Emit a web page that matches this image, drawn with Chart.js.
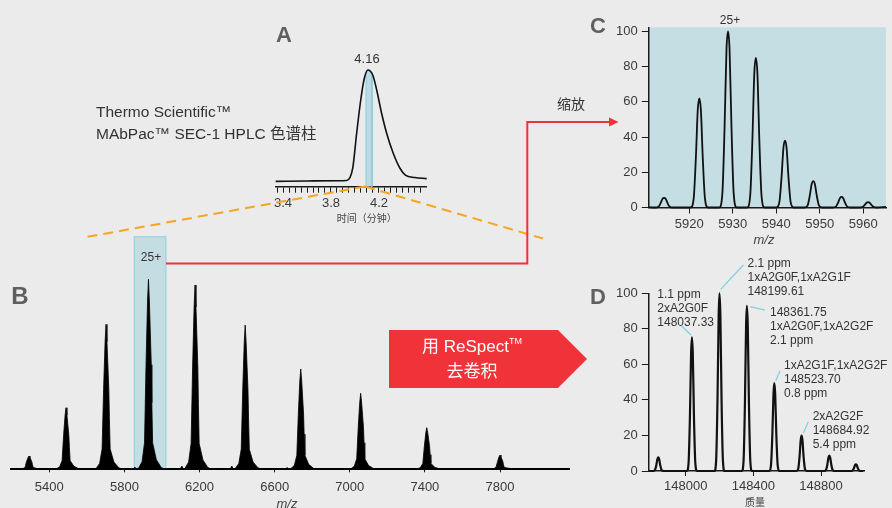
<!DOCTYPE html>
<html><head><meta charset="utf-8">
<script src="https://cdn.jsdelivr.net/npm/chart.js@4.4.1/dist/chart.umd.min.js"></script>
<style>
html,body{margin:0;padding:0;background:#ebebeb;}
#root{position:relative;width:892px;height:508px;overflow:hidden;background:#ebebeb;font-family:"Liberation Sans","Noto Sans CJK SC",sans-serif;color:#333;}
.cv{position:absolute;}
.t{position:absolute;white-space:nowrap;line-height:1;}
.c{transform:translate(-50%,-50%);}
.l{transform:translate(0,-50%);}
.big{font-size:22px;font-weight:bold;color:#5f5f5f;}
.ann{position:absolute;font-size:12px;line-height:14px;color:#333;white-space:nowrap;}
sup{font-size:9px;vertical-align:8px;}
</style></head><body><div id="root">
<canvas id="ca" class="cv" width="180" height="180" style="left:260px;top:50px"></canvas>
<canvas id="cb" class="cv" width="590" height="283" style="left:0px;top:225px"></canvas>
<canvas id="cc" class="cv" width="292" height="240" style="left:600px;top:10px"></canvas>
<canvas id="cd" class="cv" width="292" height="258" style="left:600px;top:250px"></canvas>

<svg width="892" height="508" style="position:absolute;left:0;top:0;pointer-events:none">
  <line x1="365" y1="186.5" x2="84" y2="237.5" stroke="#f5a623" stroke-width="2" stroke-dasharray="10 6"/>
  <line x1="365" y1="186.5" x2="543" y2="238.5" stroke="#f5a623" stroke-width="2" stroke-dasharray="10 6"/>
  <polyline points="166,263.5 527.3,263.5 527.3,122 611,122" fill="none" stroke="#ee3338" stroke-width="2"/>
  <polygon points="609,117.5 618.5,122 609,126.5" fill="#ee3338"/>
  <polygon points="389,330 558,330 587,359 558,388 389,388" fill="#ef3338"/>
  <g stroke="#7fcfe0" stroke-width="1.2">
    <line x1="681.7" y1="326" x2="691" y2="335"/>
    <line x1="743.3" y1="265" x2="720.7" y2="289.3"/>
    <line x1="750" y1="306.7" x2="765" y2="310"/>
    <line x1="780" y1="370.7" x2="775.7" y2="380.7"/>
    <line x1="808.3" y1="421.7" x2="803.3" y2="433.3"/>
  </g>
</svg>

<div class="t c big" style="left:284px;top:35px">A</div>
<div class="t c" style="left:367px;top:57.5px;font-size:13px">4.16</div>
<div class="t l" style="left:96px;top:112px;font-size:15.5px">Thermo Scientific™</div>
<div class="t l" style="left:96px;top:134px;font-size:15.5px">MAbPac™ SEC-1 HPLC 色谱柱</div>
<div class="t c" style="left:366.7px;top:219px;font-size:10px;color:#444">时间（分钟）</div>
<div class="t c big" style="left:598px;top:26px">C</div>
<div class="t c" style="left:730px;top:20px;font-size:12px">25+</div>
<div class="t c" style="left:571px;top:104px;font-size:14px">缩放</div>
<div class="t c" style="left:764px;top:238.5px;font-size:13px;font-style:italic;color:#444">m/z</div>
<div class="t c big" style="left:20px;top:296px;font-size:24px">B</div>
<div class="t c" style="left:151px;top:257px;font-size:12px">25+</div>
<div class="t c" style="left:287px;top:503px;font-size:13px;font-style:italic;color:#444">m/z</div>
<div class="t c" style="left:472px;top:346px;font-size:17px;color:#fff">用 ReSpect<sup>TM</sup></div>
<div class="t c" style="left:472px;top:371px;font-size:17px;color:#fff">去卷积</div>
<div class="t c big" style="left:598px;top:297px">D</div>
<div class="t c" style="left:755px;top:503px;font-size:10px;color:#444">质量</div>
<div class="ann" style="left:657.3px;top:287px">1.1 ppm<br>2xA2G0F<br>148037.33</div>
<div class="ann" style="left:747.5px;top:256px">2.1 ppm<br>1xA2G0F,1xA2G1F<br>148199.61</div>
<div class="ann" style="left:770px;top:305px">148361.75<br>1xA2G0F,1xA2G2F<br>2.1 ppm</div>
<div class="ann" style="left:784px;top:358px">1xA2G1F,1xA2G2F<br>148523.70<br>0.8 ppm</div>
<div class="ann" style="left:812.7px;top:409px">2xA2G2F<br>148684.92<br>5.4 ppm</div>
</div>
<script>
// ---------- Panel A: SEC chromatogram ----------
const chromTime   = [3.339, 3.6, 3.85, 3.931, 3.981, 4.014, 4.048, 4.078, 4.108, 4.148, 4.181, 4.222, 4.264, 4.319, 4.375, 4.42, 4.5, 4.598];
const chromSignal = [4.6,   4.9, 5.1,  5.3,   15.8,  45.8,  74.3,  92.9,  100,   95.7,  82.9,  62.9,  45.8,  28.6,  15.8,  10.0, 7.9, 6.9];
const fractionTime   = [4.092, 4.092, 4.108, 4.142, 4.142];
const fractionSignal = [0,     98.5,  100,   96.3,  0];
const aTickValues = [3.35,3.4,3.45,3.5,3.55,3.6,3.65,3.7,3.75,3.8,3.85,3.9,3.95,4.0,4.05,4.1,4.15,4.2,4.25,4.3,4.35,4.4,4.45,4.5,4.55];
const aLabeledTicks = [3.4, 3.8, 4.2];
const aTickLabels = ['3.4', '3.8', '4.2'];

// ---------- Panel B: native MS spectrum ----------
const bMz = [5200,
 5236,5258,5271,5278,5287,5292,5297,5307,5310,5314,5334,5360,5380,
 5433,5455,5468,5476,5484,5489,5494,5504,5507,5511,5531,5557,5577,
 5646,5668,5681,5689,5697,5702,5707,5717,5720,5724,5744,5770,5790,
 5846,5856,5862,
 5872,5894,5907,5915,5923,5928,5933,5943,5946,5950,5970,5996,6016,
 6096,6106,6113,
 6120,6142,6155,6163,6171,6176,6181,6191,6194,6198,6218,6244,6264,
 6362,6372,6379,
 6387,6409,6422,6430,6438,6443,6448,6458,6461,6465,6485,6511,6531,
 6656,6666,6674,
 6683,6705,6718,6726,6734,6739,6744,6754,6757,6761,6781,6807,6827,
 7002,7024,7037,7045,7053,7058,7063,7073,7076,7080,7100,7126,7146,
 7354,7376,7389,7397,7405,7410,7415,7425,7428,7432,7452,7478,7498,
 7744,7766,7779,7787,7795,7800,7805,7815,7818,7822,7842,7868,7888,
 8080];
const bIntensity = [0.3,
 0,0.3,1.0,3.9,6.2,7.0,6.2,3.9,2.5,1.0,0.4,0.1,0,
 0,1.3,4.5,17.8,28.5,32.4,28.5,17.8,11.3,4.5,1.6,0.3,0,
 0,3.1,10.7,42.0,67.1,76.3,67.1,42.0,26.7,10.7,3.8,0.8,0,
 0,1.2,0.1,
 0,4,14,55,88,100,88,55,35,14,5,1,0,
 0,1.7,0.2,
 0,3.9,13.6,53.4,85.4,97,85.4,53.4,34.0,13.6,4.9,1.0,0,
 0,1.7,0.2,
 0,3.0,10.6,41.7,66.8,75.9,66.8,41.7,26.6,10.6,3.8,0.8,0,
 0,1.0,0.1,
 0,2.1,7.4,29.0,46.5,52.8,46.5,29.0,18.5,7.4,2.6,0.5,0,
 0,1.6,5.6,22.0,35.2,40,35.2,22,14,5.6,2.0,0.4,0,
 0,0.9,3.1,12.0,19.3,21.9,19.3,12.0,7.7,3.1,1.1,0.2,0,
 0,0.3,1.1,4.1,6.6,7.5,6.6,4.1,2.6,1.1,0.6,0.3,0,
 0];
const bTickValues = [5400, 5800, 6200, 6600, 7000, 7400, 7800];
const bHighlightMz = [5853, 6020];
const bHighlightTop = 122.4;

// ---------- Panel C: zoom of the 25+ charge state ----------
const cMz = [5910.7,
 5912.2,5912.9,5913.4,5913.85,5914.2,5914.55,5915.0,5915.5,5916.2,
 5920.3,5921.0,5921.5,5921.95,5922.3,5922.65,5923.1,5923.6,5924.3,
 5926.9,5927.6,5928.1,5928.55,5928.9,5929.25,5929.7,5930.2,5930.9,
 5933.3,5934.0,5934.5,5934.95,5935.3,5935.65,5936.1,5936.6,5937.3,
 5940.0,5940.7,5941.2,5941.65,5942.0,5942.35,5942.8,5943.3,5944.0,
 5946.5,5947.2,5947.7,5948.15,5948.5,5948.85,5949.3,5949.8,5950.5,
 5953.0,5953.7,5954.2,5954.65,5955.0,5955.35,5955.8,5956.3,5957.0,
 5959.1,5959.8,5960.3,5960.75,5961.1,5961.45,5961.9,5962.4,5963.1,
 5965.2];
const cIntensity = [0.2,
 0,0.4,2.5,5.0,5.5,5.0,2.5,0.4,0,
 0,5.0,27.9,55.8,62,55.8,27.9,5.0,0,
 0,8,45,90,100,90,45,8,0,
 0,6.8,38.3,76.5,85,76.5,38.3,6.8,0,
 0,3.0,17.1,34.2,38,34.2,17.1,3.0,0,
 0,1.2,6.8,13.5,15,13.5,6.8,1.2,0,
 0,0.5,2.7,5.4,6,5.4,2.7,0.5,0,
 0,0.3,1.4,2.7,3,2.7,1.4,0.3,0,
 0.3];
const cXTicks = [5920, 5930, 5940, 5950, 5960];
const cYTicks = [0, 20, 40, 60, 80, 100];

// ---------- Panel D: deconvoluted mass spectrum ----------
const dMass = [147785,
 147808,147818,147826,147833,147838,147843,147850,147858,147868,
 148007,148017,148025,148032,148037,148042,148049,148057,148067,
 148170,148180,148188,148195,148199.6,148205,148212,148220,148230,
 148332,148342,148350,148357,148361.75,148367,148374,148382,148392,
 148494,148504,148512,148519,148523.7,148529,148536,148544,148554,
 148655,148665,148673,148680,148684.9,148690,148697,148705,148715,
 148819,148829,148837,148844,148849,148854,148861,148869,148879,
 148976,148986,148994,149001,149006,149011,149018,149026,149036,
 149050];
const dIntensity = [0,
 0,0.5,3.1,6.8,7.7,6.8,3.1,0.5,0,
 0,4.5,30.1,66.2,75.2,66.2,30.1,4.5,0,
 0,6,40,88,100,88,40,6,0,
 0,5.6,37.2,81.8,92.9,81.8,37.2,5.6,0,
 0,3.0,19.8,43.5,49.4,43.5,19.8,3.0,0,
 0,1.2,8.0,17.5,19.9,17.5,8.0,1.2,0,
 0,0.5,3.4,7.6,8.6,7.6,3.4,0.5,0,
 0,0.2,1.5,3.3,3.8,3.3,1.5,0.2,0,
 0];
const dXTicks = [148000, 148400, 148800];
const dYTicks = [0, 20, 40, 60, 80, 100];

// ---------- helpers ----------
const FAM = '"Liberation Sans","Noto Sans CJK SC",sans-serif';
const TXT = '#3a3a3a';
const AX = '#1a1a1a';
function pts(xs, ys){ return xs.map((x,i)=>({x:x, y:ys[i]})); }
function fixBox(w,h){ return function(s){ if(w!=null) s.width=w; if(h!=null) s.height=h; s.paddingLeft=0; s.paddingRight=0; s.paddingTop=0; s.paddingBottom=0; }; }
function setTicks(vals){ return function(s){ s.ticks = vals.map(v=>({value:v})); }; }

const areaFill = {id:'areaFill', beforeDraw(chart, args, o){
  if(!o || !o.color) return;
  const a = chart.chartArea, ctx = chart.ctx;
  ctx.save(); ctx.fillStyle = o.color; ctx.fillRect(a.left, a.top, a.right-a.left, a.bottom-a.top); ctx.restore();
}};
const bandBox = {id:'bandBox', beforeDraw(chart, args, o){
  if(!o || !o.range) return;
  const x = chart.scales.x, y = chart.scales.y, ctx = chart.ctx;
  const x0 = x.getPixelForValue(o.range[0]), x1 = x.getPixelForValue(o.range[1]);
  const y0 = y.getPixelForValue(0), y1 = y.getPixelForValue(o.top);
  ctx.save();
  ctx.fillStyle = o.fill; ctx.fillRect(x0, y1, x1-x0, y0-y1);
  ctx.strokeStyle = o.stroke; ctx.lineWidth = 1.5; ctx.strokeRect(x0, y1, x1-x0, y0-y1);
  ctx.restore();
}};

function base(padding){
  return {responsive:false, animation:false, devicePixelRatio:1,
    layout:{padding:padding, autoPadding:false},
    plugins:{legend:{display:false}, tooltip:{enabled:false}}};
}

// ---------- Chart A ----------
(function(){
  const o = base({left:15.7, right:13.3, top:20, bottom:0});
  o.scales = {
    x:{type:'linear', min:3.339, max:4.598, afterBuildTicks:setTicks(aTickValues), afterFit:fixBox(null,43.3),
       ticks:{autoSkip:false, maxRotation:0, padding:3, color:TXT, font:{size:13, family:FAM},
         callback:(v)=>{ const i = aLabeledTicks.findIndex(t=>Math.abs(t-v)<1e-6); return i>=0 ? aTickLabels[i] : ''; }},
       grid:{display:true, drawOnChartArea:false, drawTicks:true, tickLength:6, color:AX, lineWidth:1},
       border:{display:true, color:AX, width:1.5}},
    y:{display:false, min:0, max:100}
  };
  new Chart(document.getElementById('ca'), {type:'line', data:{datasets:[
    {data:pts(chromTime, chromSignal), borderColor:'#111', borderWidth:1.6, pointRadius:0, cubicInterpolationMode:'monotone', fill:false, clip:false, order:1},
    {data:pts(fractionTime, fractionSignal), borderColor:'#8ccbd8', backgroundColor:'#b6dce5', borderWidth:1, pointRadius:0, tension:0, fill:'origin', clip:false, order:2}
  ]}, options:o});
})();

// ---------- Chart B ----------
(function(){
  const o = base({left:11, right:20.7, top:54.3, bottom:0});
  o.plugins.bandBox = {range:bHighlightMz, top:bHighlightTop, fill:'#c4dde3', stroke:'#a3d4df'};
  o.scales = {
    x:{type:'linear', min:5196, max:8169, afterBuildTicks:setTicks(bTickValues), afterFit:fixBox(null,38.7),
       ticks:{autoSkip:false, maxRotation:0, padding:7, color:TXT, font:{size:13, family:FAM}, callback:(v)=>String(v)},
       grid:{display:true, drawOnChartArea:false, drawTicks:true, tickLength:3, color:AX, lineWidth:1},
       border:{display:true, color:'#000', width:2}},
    y:{display:false, min:0, max:100}
  };
  new Chart(document.getElementById('cb'), {type:'line', data:{datasets:[
    {data:pts(bMz, bIntensity), borderColor:'#000', backgroundColor:'#000', borderWidth:0.8, pointRadius:0, tension:0, fill:'origin', clip:false}
  ]}, options:o, plugins:[bandBox]});
})();

// ---------- Chart C ----------
(function(){
  const o = base({left:0, right:6, top:17.3, bottom:0});
  o.plugins.areaFill = {color:'#c4dee4'};
  o.scales = {
    x:{type:'linear', min:5910.57, max:5965.22, afterBuildTicks:setTicks(cXTicks), afterFit:fixBox(null,42.5),
       ticks:{autoSkip:false, maxRotation:0, padding:3, color:TXT, font:{size:13, family:FAM}, callback:(v)=>String(v)},
       grid:{display:true, drawOnChartArea:false, drawTicks:true, tickLength:6, color:AX, lineWidth:1},
       border:{display:true, color:AX, width:1.5}},
    y:{type:'linear', min:0, max:102.4, afterBuildTicks:setTicks(cYTicks), afterFit:fixBox(48.3,null),
       ticks:{autoSkip:false, padding:4, color:TXT, font:{size:13, family:FAM}, callback:(v)=>String(v)},
       grid:{display:true, drawOnChartArea:false, drawTicks:true, tickLength:6.5, color:AX, lineWidth:1},
       border:{display:true, color:AX, width:1.5}}
  };
  new Chart(document.getElementById('cc'), {type:'line', data:{datasets:[
    {data:pts(cMz, cIntensity), borderColor:'#111', borderWidth:1.8, pointRadius:0, cubicInterpolationMode:'monotone', fill:false, clip:false}
  ]}, options:o, plugins:[areaFill]});
})();

// ---------- Chart D ----------
(function(){
  const o = base({left:0, right:28, top:43.3, bottom:0});
  o.scales = {
    x:{type:'linear', min:147779, max:149054, afterBuildTicks:setTicks(dXTicks), afterFit:fixBox(null,37),
       ticks:{autoSkip:false, maxRotation:0, padding:3, color:TXT, font:{size:13, family:FAM}, callback:(v)=>String(v)},
       grid:{display:true, drawOnChartArea:false, drawTicks:true, tickLength:5, color:AX, lineWidth:1},
       border:{display:true, color:AX, width:1.5}},
    y:{type:'linear', min:0, max:100, afterBuildTicks:setTicks(dYTicks), afterFit:fixBox(48.3,null),
       ticks:{autoSkip:false, padding:4, color:TXT, font:{size:13, family:FAM}, callback:(v)=>String(v)},
       grid:{display:true, drawOnChartArea:false, drawTicks:true, tickLength:6.5, color:AX, lineWidth:1},
       border:{display:true, color:AX, width:1.5}}
  };
  new Chart(document.getElementById('cd'), {type:'line', data:{datasets:[
    {data:pts(dMass, dIntensity), borderColor:'#111', borderWidth:2.2, pointRadius:0, cubicInterpolationMode:'monotone', fill:false, clip:false}
  ]}, options:o});
})();
</script>
</body></html>
